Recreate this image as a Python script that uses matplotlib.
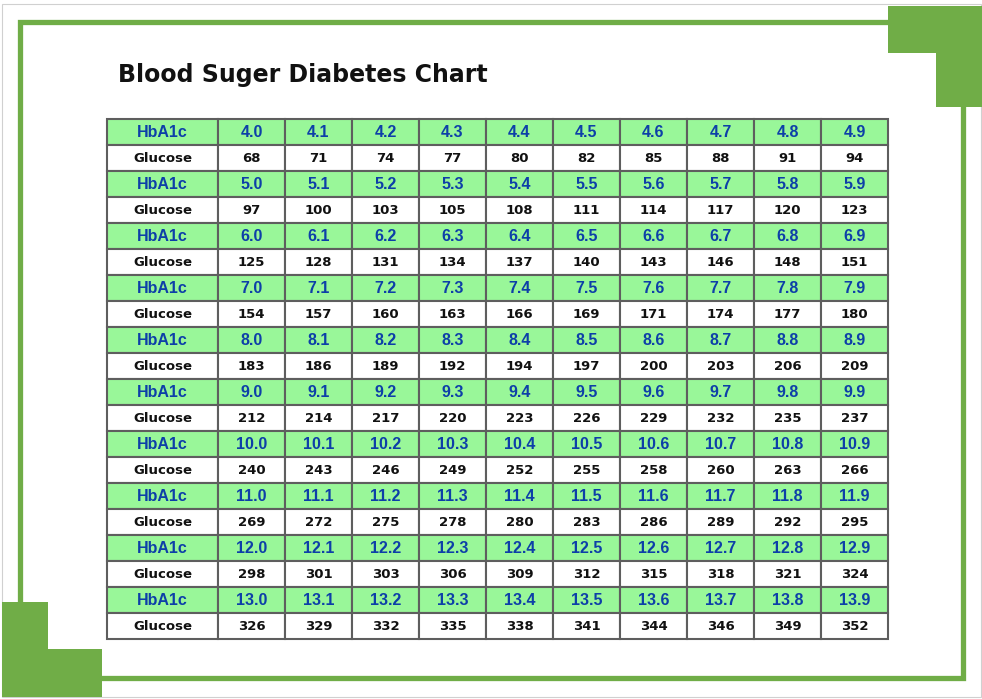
import matplotlib
matplotlib.use("Agg")
import matplotlib.pyplot as plt
from matplotlib.patches import Rectangle, Polygon

# data
title = "Blood Suger Diabetes Chart"
row_labels = ["HbA1c", "Glucose"]
hba1c = [
    ["4.0", "4.1", "4.2", "4.3", "4.4", "4.5", "4.6", "4.7", "4.8", "4.9"],
    ["5.0", "5.1", "5.2", "5.3", "5.4", "5.5", "5.6", "5.7", "5.8", "5.9"],
    ["6.0", "6.1", "6.2", "6.3", "6.4", "6.5", "6.6", "6.7", "6.8", "6.9"],
    ["7.0", "7.1", "7.2", "7.3", "7.4", "7.5", "7.6", "7.7", "7.8", "7.9"],
    ["8.0", "8.1", "8.2", "8.3", "8.4", "8.5", "8.6", "8.7", "8.8", "8.9"],
    ["9.0", "9.1", "9.2", "9.3", "9.4", "9.5", "9.6", "9.7", "9.8", "9.9"],
    ["10.0", "10.1", "10.2", "10.3", "10.4", "10.5", "10.6", "10.7", "10.8", "10.9"],
    ["11.0", "11.1", "11.2", "11.3", "11.4", "11.5", "11.6", "11.7", "11.8", "11.9"],
    ["12.0", "12.1", "12.2", "12.3", "12.4", "12.5", "12.6", "12.7", "12.8", "12.9"],
    ["13.0", "13.1", "13.2", "13.3", "13.4", "13.5", "13.6", "13.7", "13.8", "13.9"],
]
glucose = [
    [68, 71, 74, 77, 80, 82, 85, 88, 91, 94],
    [97, 100, 103, 105, 108, 111, 114, 117, 120, 123],
    [125, 128, 131, 134, 137, 140, 143, 146, 148, 151],
    [154, 157, 160, 163, 166, 169, 171, 174, 177, 180],
    [183, 186, 189, 192, 194, 197, 200, 203, 206, 209],
    [212, 214, 217, 220, 223, 226, 229, 232, 235, 237],
    [240, 243, 246, 249, 252, 255, 258, 260, 263, 266],
    [269, 272, 275, 278, 280, 283, 286, 289, 292, 295],
    [298, 301, 303, 306, 309, 312, 315, 318, 321, 324],
    [326, 329, 332, 335, 338, 341, 344, 346, 349, 352],
]

GREEN = "#70ad47"
ROW_GREEN = "#99f799"
BLUE = "#0d3fa8"
GRID = "#5e5e5e"

fig = plt.figure(figsize=(9.82, 6.99), dpi=100)
ax = fig.add_axes([0, 0, 1, 1])
ax.set_xlim(0, 982)
ax.set_ylim(699, 0)
ax.axis("off")

# page border and green frame
ax.add_patch(Rectangle((2, 4), 979, 693, fill=False, ec="#d0d0d0", lw=0.8))
ax.add_patch(Rectangle((20, 22), 943, 656, fill=False, ec=GREEN, lw=3.8))
ax.add_patch(Polygon([(888, 6), (982, 6), (982, 107), (936, 107), (936, 53), (888, 53)],
                     closed=True, fc=GREEN, ec="none"))
ax.add_patch(Polygon([(2, 602), (48, 602), (48, 649), (102, 649), (102, 697), (2, 697)],
                     closed=True, fc=GREEN, ec="none"))

ax.text(118, 75, title, fontsize=17, fontweight="bold", family="DejaVu Sans",
        ha="left", va="center", color="#111111")

# table
x0, y0 = 107, 119
first_w, col_w, row_h = 111, 67, 26

row = 0
for hb, gl in zip(hba1c, glucose):
    for kind, vals in ((0, hb), (1, gl)):
        y = y0 + row * row_h
        face = ROW_GREEN if kind == 0 else "white"
        ax.add_patch(Rectangle((x0, y), first_w, row_h, fc=face, ec=GRID, lw=1.5))
        if kind == 0:
            ax.text(x0 + first_w / 2, y + row_h / 2 + 0.5, row_labels[0], color=BLUE,
                    fontsize=11.5, fontweight="bold", family="Liberation Sans",
                    ha="center", va="center")
        else:
            ax.text(x0 + first_w / 2, y + row_h / 2 + 0.5, row_labels[1], color="#111111",
                    fontsize=9.5, fontweight="bold", family="DejaVu Sans",
                    ha="center", va="center")
        for j, v in enumerate(vals):
            x = x0 + first_w + j * col_w
            ax.add_patch(Rectangle((x, y), col_w, row_h, fc=face, ec=GRID, lw=1.5))
            if kind == 0:
                ax.text(x + col_w / 2, y + row_h / 2 + 0.5, v, color=BLUE,
                        fontsize=11.5, fontweight="bold", family="Liberation Sans",
                        ha="center", va="center")
            else:
                ax.text(x + col_w / 2, y + row_h / 2 + 0.5, str(v), color="#111111",
                        fontsize=9.5, fontweight="bold", family="DejaVu Sans",
                        ha="center", va="center")
        row += 1

fig.savefig("out.png", dpi=100)
